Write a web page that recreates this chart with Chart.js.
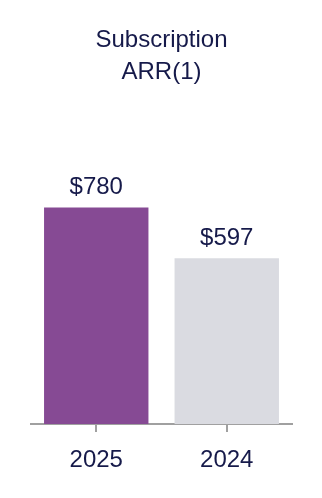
<!DOCTYPE html>
<html>
<head>
<meta charset="utf-8">
<script src="https://cdn.jsdelivr.net/npm/chart.js@4"></script>
<style>
  html, body { margin: 0; padding: 0; background: #fff; }
  #wrap { width: 322px; height: 498px; }
</style>
</head>
<body>
<div id="wrap"><canvas id="arrChart" width="322" height="498"></canvas></div>
<script>
const years = ["2025", "2024"];
const arrValues = [780, 597];
const barColors = ["#864a94", "#dadbe1"];
const valueLabels = ["$780", "$597"];

const navy = "#161a4a";
const fontFamily = "'Liberation Sans', Arial, sans-serif";

// draws the dollar labels over each bar
const valueLabelPlugin = {
  id: "valueLabels",
  afterDatasetsDraw(chart) {
    const ctx = chart.ctx;
    const meta = chart.getDatasetMeta(0);
    ctx.save();
    ctx.font = "24px " + fontFamily;
    ctx.fillStyle = navy;
    ctx.textAlign = "center";
    ctx.textBaseline = "alphabetic";
    meta.data.forEach((bar, i) => {
      ctx.fillText(valueLabels[i], bar.x, bar.y - 13.5);
    });
    ctx.restore();
  },
};

const arrConfig = {
  type: "bar",
  data: {
    labels: years,
    datasets: [
      {
        data: arrValues,
        backgroundColor: barColors,
        borderWidth: 0,
        barPercentage: 0.8,
        categoryPercentage: 1,
      },
    ],
  },
  options: {
    responsive: false,
    animation: false,
    layout: {
      padding: { left: 31, right: 30, top: 0, bottom: 10 },
    },
    plugins: {
      legend: { display: false },
      tooltip: { enabled: false },
      title: {
        display: true,
        text: ["Subscription", "ARR(1)"],
        color: navy,
        font: { family: fontFamily, size: 24, weight: "normal", lineHeight: 1.3333 },
        padding: { top: 24, bottom: 58.5 },
      },
    },
    scales: {
      x: {
        grid: {
          display: true,
          offset: false,
          drawOnChartArea: false,
          drawTicks: true,
          tickLength: 8,
          color: "#a0a0a0",
          lineWidth: 2,
        },
        border: { display: true, color: "#a0a0a0", width: 2 },
        ticks: {
          color: navy,
          padding: 13.6,
          font: { family: fontFamily, size: 24 },
        },
      },
      y: {
        display: false,
        min: 0,
        max: 1000,
      },
    },
  },
  plugins: [valueLabelPlugin],
};

const arrChart = new Chart(document.getElementById("arrChart"), arrConfig);
</script>
</body>
</html>
